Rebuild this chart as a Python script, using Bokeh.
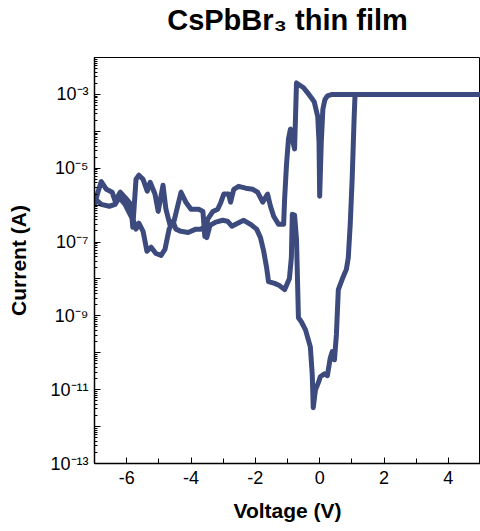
from bokeh.plotting import figure
from bokeh.models import Range1d, FixedTicker, CustomJSTickFormatter, ColumnDataSource, LinearAxis
from bokeh.embed import file_html
from bokeh.resources import INLINE

# I-V sweep of CsPbBr3 thin film (one continuous loop)
voltage_V = [
    5.00, 0.39, 0.24, 0.16, 0.10, 0.05, 0.00,
    -0.02, -0.06, -0.17, -0.38, -0.50, -0.72,
    -0.78, -0.85, -0.91, -0.97, -1.03, -1.09, -1.12,
    -1.28, -1.43, -1.53, -1.62, -1.77, -1.93, -2.08, -2.30, -2.52, -2.67, -2.77,
    -2.83, -2.98, -3.07, -3.17, -3.32, -3.48, -3.57, -3.63, -3.76, -4.00, -4.16, -4.31,
    -4.53, -4.65, -4.78, -4.87, -5.02, -5.12, -5.27, -5.36, -5.49, -5.62, -5.71, -5.81,
    -5.87, -6.05, -6.20, -6.36, -6.45, -6.63, -6.79, -6.91, -7.00,
    -6.97, -6.79, -6.54, -6.36, -6.23, -6.05, -5.93, -5.78, -5.71, -5.62, -5.49, -5.37,
    -5.24, -5.09, -4.93, -4.81, -4.68, -4.56, -4.47, -4.31, -4.09, -3.85, -3.69, -3.57,
    -3.51, -3.41, -3.23, -3.01, -2.86, -2.73, -2.55, -2.36, -2.15, -1.96, -1.84, -1.74,
    -1.65, -1.59, -1.40, -1.25, -1.09, -0.94, -0.88, -0.85, -0.78, -0.72,
    -0.66, -0.57, -0.44, -0.29, -0.23, -0.20, -0.13, -0.04, 0.02, 0.15, 0.24, 0.33,
    0.39, 0.46, 0.52, 0.58, 0.70, 0.83, 0.89, 0.95, 1.01, 1.07, 1.10,
]
log10_current_A = [
    -3.00, -3.00, -3.04, -3.15, -3.40, -4.29, -5.76,
    -4.29, -3.60, -3.20, -2.95, -2.82, -2.69,
    -4.48, -4.21, -3.94, -4.21, -4.89, -5.84, -6.52,
    -6.52, -6.30, -6.03, -5.70, -5.92, -5.65, -5.57, -5.54, -5.49, -5.57, -5.92,
    -5.70, -5.70, -5.92, -6.11, -6.17, -6.38, -6.85, -6.17, -6.11, -6.11, -5.92, -5.65,
    -6.44, -6.55, -6.11, -5.46, -6.17, -5.70, -5.38, -5.62, -5.30, -5.19, -5.30, -6.60,
    -5.98, -5.79, -5.65, -5.89, -5.65, -5.57, -5.36, -5.70, -5.98,
    -5.84, -5.98, -6.03, -5.98, -5.79, -5.98, -6.19, -6.44, -6.65, -6.49, -6.71, -7.25,
    -7.14, -7.31, -7.36, -7.20, -6.65, -6.44, -6.65, -6.71, -6.74, -6.65, -6.65, -6.57,
    -6.88, -6.55, -6.46, -6.41, -6.44, -6.57, -6.49, -6.41, -6.52, -6.65, -6.88, -7.25,
    -7.69, -8.07, -8.12, -8.18, -8.29, -7.99, -7.42, -6.25, -6.27, -6.93,
    -9.05, -9.16, -9.38, -9.84, -10.60, -11.49, -11.00, -10.81, -10.65, -10.57, -10.62, -10.14,
    -9.97, -10.19, -9.51, -8.29, -8.01, -7.74, -7.42, -6.52, -5.30, -3.67, -3.00,
]
current_A = [10 ** v for v in log10_current_A]

x_major_ticks = [-6, -4, -2, 0, 2, 4]
x_minor_ticks = [-7, -5, -3, -1, 1, 3, 5]
y_decades = list(range(-13, -1))

TITLE = "CsPbBr\u2083 thin film"
LINE_COLOR = "#3c4a7e"
FONT = "Liberation Sans"

source = ColumnDataSource(data=dict(v=voltage_V, i=current_A))

p = figure(
    width=480, height=531,
    y_axis_type="log",
    x_range=Range1d(-7, 5),
    y_range=Range1d(1e-13, 1e-2),
    output_backend="svg",
    toolbar_location=None,
    min_border_left=94, min_border_right=0,
    min_border_top=57, min_border_bottom=68,
    background_fill_color="white",
    border_fill_color="white",
)

p.grid.visible = False
p.outline_line_color = "black"
p.outline_line_width = 1

p.line("v", "i", source=source, line_color=LINE_COLOR, line_width=5,
       line_join="round", line_cap="round")

# keep references to the bottom and left axes before adding the title axis
xa = p.below[0]
ya = p.left[0]

# Title drawn as the label of a bare axis above the frame
top_axis = LinearAxis(ticker=FixedTicker(ticks=[]), axis_label=TITLE)
top_axis.axis_line_color = None
top_axis.major_tick_line_color = None
top_axis.minor_tick_line_color = None
top_axis.major_label_text_font_size = "0px"
top_axis.major_label_standoff = 0
top_axis.major_tick_out = 0
top_axis.major_tick_in = 0
top_axis.minor_tick_out = 0
top_axis.minor_tick_in = 0
top_axis.axis_label_text_font = FONT
top_axis.axis_label_text_font_size = "29px"
top_axis.axis_label_text_font_style = "bold"
top_axis.axis_label_text_color = "black"
top_axis.axis_label_standoff = 22
p.add_layout(top_axis, "above")

# X axis
xa.ticker = FixedTicker(ticks=x_major_ticks, minor_ticks=x_minor_ticks)
xa.formatter = CustomJSTickFormatter(code="return String(Math.round(tick));")
xa.axis_label = "Voltage (V)"
# Y axis
minor = [m * 10.0 ** d for d in y_decades[:-1] for m in range(2, 10)]
ya.ticker = FixedTicker(ticks=[10.0 ** d for d in y_decades], minor_ticks=minor)
ya.formatter = CustomJSTickFormatter(code="""
const e = Math.round(Math.log10(tick));
if (Math.abs(e % 2) != 1) { return ''; }
const sup = {'-':'\u207b','0':'\u2070','1':'\u00b9','2':'\u00b2','3':'\u00b3','4':'\u2074','5':'\u2075','6':'\u2076','7':'\u2077','8':'\u2078','9':'\u2079'};
let s = '';
for (const c of String(e)) { s += sup[c]; }
return '10' + s;
""")
ya.axis_label = "Current (A)"

for ax in (xa, ya):
    ax.axis_line_color = "black"
    ax.axis_line_width = 1.5
    ax.major_tick_line_color = "black"
    ax.minor_tick_line_color = "black"
    ax.major_tick_in = 6
    ax.major_tick_out = 0
    ax.minor_tick_in = 3
    ax.minor_tick_out = 0
    ax.major_label_text_font = FONT
    ax.major_label_text_font_size = "18px"
    ax.major_label_text_color = "black"
    ax.axis_label_text_font = FONT
    ax.axis_label_text_font_size = "21px"
    ax.axis_label_text_font_style = "bold"
    ax.axis_label_text_color = "black"

xa.minor_tick_in = 5
xa.major_label_standoff = 7
xa.axis_label_standoff = 12
ya.major_label_standoff = 6
ya.axis_label_standoff = 17

open("out.html", "w").write(file_html(p, INLINE))
